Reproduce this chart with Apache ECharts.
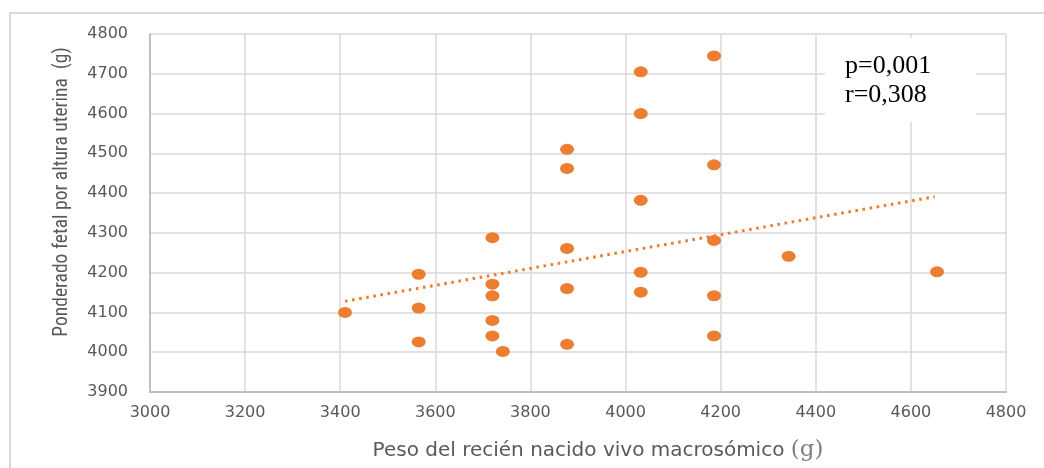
<!DOCTYPE html>
<html>
<head>
<meta charset="utf-8">
<script src="https://cdn.jsdelivr.net/npm/echarts@6/dist/echarts.min.js"></script>
<style>
html,body{margin:0;padding:0;background:#fff;}
#chart{width:1044px;height:468px;}
</style>
</head>
<body>
<div id="chart"></div>
<script>
// Peso del recién nacido (g)
const pesoRN = [3410, 3565, 3565, 3565, 3720, 3720, 3720, 3720, 3720, 3742,
                3877, 3877, 3877, 3877, 3877, 4032, 4032, 4032, 4032, 4032,
                4186, 4186, 4186, 4186, 4186, 4343, 4655];
// Ponderado fetal por altura uterina (g)
const ponderado = [4100, 4196, 4111, 4026, 4288, 4171, 4142, 4080, 4041, 4002,
                   4510, 4462, 4261, 4160, 4020, 4705, 4600, 4382, 4201, 4151,
                   4745, 4471, 4281, 4142, 4041, 4241, 4202];
// Linear trend line endpoints
const trendX = [3410, 4650];
const trendY = [4128, 4391];
const xTicks = [3000, 3200, 3400, 3600, 3800, 4000, 4200, 4400, 4600, 4800];
const yTicks = [3900, 4000, 4100, 4200, 4300, 4400, 4500, 4600, 4700, 4800];
const statsText = ['p=0,001', 'r=0,308'];

const scatterData = pesoRN.map((x, i) => [x, ponderado[i]]);
const trendData = trendX.map((x, i) => [x, trendY[i]]);

const chart = echarts.init(document.getElementById('chart'), null, {renderer: 'canvas'});
const labelStyle = {color: '#595959', fontFamily: 'DejaVu Sans', fontSize: 16, formatter: v => String(v)};
chart.setOption({
  animation: false,
  backgroundColor: '#ffffff',
  grid: {left: 150, right: 38, top: 34, bottom: 76},
  xAxis: {
    type: 'value',
    min: xTicks[0], max: xTicks[xTicks.length - 1], interval: xTicks[1] - xTicks[0],
    axisLine: {show: true, onZero: false, lineStyle: {color: '#bfbfbf', width: 2}},
    axisTick: {show: false},
    axisLabel: Object.assign({margin: 13}, labelStyle),
    splitLine: {show: true, lineStyle: {color: '#d9d9d9', width: 1.5}},
    name: 'Peso del recién nacido vivo macrosómico {g|(g)}',
    nameLocation: 'middle',
    nameGap: 47,
    nameTextStyle: {
      color: '#595959', fontFamily: 'DejaVu Sans', fontSize: 20, padding: [0, 0, 0, 40],
      rich: {g: {fontFamily: 'DejaVu Serif', fontSize: 23, color: '#808080'}}
    }
  },
  yAxis: {
    type: 'value',
    min: yTicks[0], max: yTicks[yTicks.length - 1], interval: yTicks[1] - yTicks[0],
    axisLine: {show: true, onZero: false, lineStyle: {color: '#bfbfbf', width: 2}},
    axisTick: {show: false},
    axisLabel: Object.assign({margin: 22}, labelStyle),
    splitLine: {show: true, lineStyle: {color: '#d9d9d9', width: 1.5}}
  },
  series: [
    {
      type: 'line',
      data: trendData,
      showSymbol: false,
      symbol: 'none',
      lineStyle: {color: '#ED7D31', width: 3, type: [2.6, 4.6], cap: 'butt'},
      z: 2
    },
    {
      type: 'scatter',
      data: scatterData,
      symbol: 'circle',
      symbolSize: [14, 11],
      itemStyle: {color: '#ED7D31', opacity: 1},
      z: 3
    }
  ],
  graphic: [
    {
      type: 'rect',
      shape: {x: 10, y: 13, width: 1200, height: 600},
      style: {fill: 'none', stroke: '#d9d9d9', lineWidth: 2},
      silent: true, z: 0
    },
    {
      type: 'rect',
      shape: {x: 825, y: 38, width: 151, height: 84},
      style: {fill: '#ffffff'},
      z: 10
    },
    {
      type: 'text',
      x: 845, y: 52,
      style: {
        text: statsText.join('\n'),
        font: '26px "Liberation Serif", "Times New Roman", serif',
        fill: '#000000',
        lineHeight: 29,
        textAlign: 'left',
        textVerticalAlign: 'top'
      },
      z: 11
    },
    {
      type: 'text',
      x: 62, y: 192,
      rotation: Math.PI / 2,
      style: {
        text: 'Ponderado fetal por altura uterina  (g)',
        font: '19.5px "Liberation Sans Narrow", "Roboto Condensed", Roboto, sans-serif',
        fill: '#595959',
        textAlign: 'center',
        textVerticalAlign: 'middle'
      },
      z: 11
    }
  ]
});
</script>
</body>
</html>
